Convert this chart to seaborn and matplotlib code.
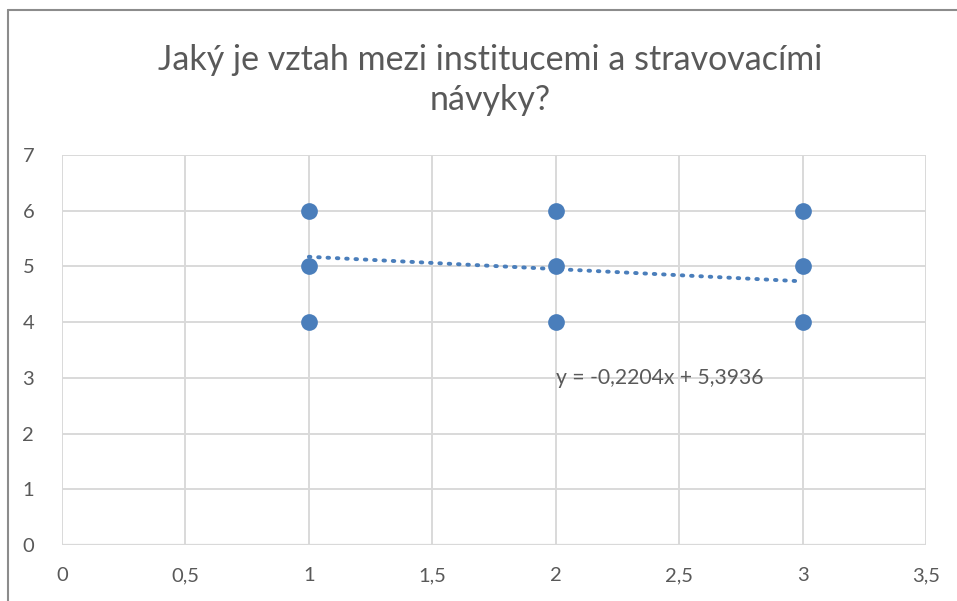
import matplotlib
matplotlib.use("Agg")
import numpy as np
import pandas as pd
import matplotlib.pyplot as plt
import seaborn as sns
from matplotlib.lines import Line2D

# data
instituce = [1, 1, 1, 2, 2, 2, 3, 3, 3]
navyky = [4, 5, 6, 4, 5, 6, 4, 5, 6]

# Excel trendline (from the printed equation)
slope = -0.2204
intercept = 5.3936
trend_x = [1, 3]

x_ticks = [0, 0.5, 1, 1.5, 2, 2.5, 3, 3.5]
y_ticks = [0, 1, 2, 3, 4, 5, 6, 7]

title = "Jaký je vztah mezi institucemi a stravovacími\nnávyky?"
rovnice = "y = -0,2204x + 5,3936"

blue = "#4a7ebb"
grid = "#d9d9d9"
txt = "#595959"

sns.set_theme(style="white")
plt.rcParams['font.family'] = ['Lato', 'DejaVu Sans']

fig = plt.figure(figsize=(9.57, 6.01), dpi=100)
ax = fig.add_axes([62 / 957, 56 / 601, 864 / 957, 390 / 601])

df = pd.DataFrame({"x": instituce, "y": navyky})
trend = pd.DataFrame({"x": trend_x, "y": [slope * v + intercept for v in trend_x]})

sns.lineplot(data=trend, x="x", y="y", ax=ax, color=blue, lw=2.8,
             linestyle=(0, (0.4, 2.0)), dash_capstyle="round", zorder=3)
sns.scatterplot(data=df, x="x", y="y", ax=ax, color=blue, s=145,
                edgecolor=blue, linewidth=0, zorder=4)

ax.set_xlim(0, 3.5)
ax.set_ylim(0, 7)
ax.set_xticks(x_ticks)
ax.set_yticks(y_ticks)
ax.set_xticklabels([f"{t:g}".replace(".", ",") for t in x_ticks])
ax.set_yticklabels([str(t) for t in y_ticks])
ax.tick_params(length=0, labelsize=14.5, labelcolor=txt)
ax.tick_params(axis="x", pad=16)
ax.tick_params(axis="y", pad=20)
ax.grid(True, color=grid, lw=1.4)
ax.set_axisbelow(True)
for s in ax.spines.values():
    s.set_visible(False)
ax.axhline(0, color=grid, lw=1.6, zorder=1)
ax.set_xlabel("")
ax.set_ylabel("")

ax.text(2.0, 3.0, rovnice, ha="left", va="center", fontsize=15.2, color=txt)

fig.text(490 / 957, 1 - 80 / 601, title, ha="center", va="center",
         fontsize=24.5, color=txt, linespacing=1.3)

# chart area border (left and top edges visible)
fig.add_artist(Line2D([8 / 957, 8 / 957], [0, 1 - 10 / 601], color="#8c8c8c", lw=1.5))
fig.add_artist(Line2D([8 / 957, 1], [1 - 10 / 601, 1 - 10 / 601], color="#8c8c8c", lw=1.5))

fig.savefig("out.png", dpi=100)
